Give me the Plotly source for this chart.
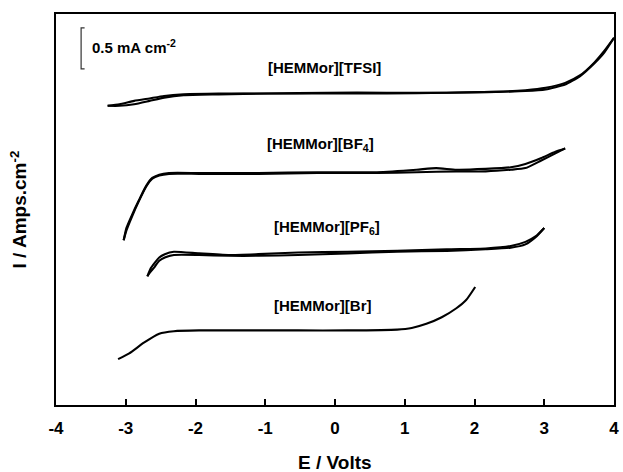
import plotly.graph_objects as go

# ---- data (E in volts, I in mA cm^-2 including vertical offsets) ----
tfsi_fwd_x = [-3.26, -3.09, -2.88, -2.66, -2.45, -2.17, -1.67, -0.96, -0.11, 0.74, 1.60, 2.31, 2.73, 3.02, 3.30, 3.51, 3.72, 3.86, 4.00]
tfsi_fwd_y = [3.65, 3.67, 3.71, 3.74, 3.77, 3.79, 3.80, 3.80, 3.81, 3.81, 3.81, 3.82, 3.84, 3.87, 3.93, 4.02, 4.18, 4.32, 4.48]
tfsi_rev_x = [4.00, 3.86, 3.72, 3.51, 3.30, 3.02, 2.73, 2.31, 1.60, 0.74, -0.11, -0.96, -1.67, -2.17, -2.45, -2.66, -2.88, -3.09, -3.26]
tfsi_rev_y = [4.48, 4.30, 4.17, 4.01, 3.91, 3.85, 3.83, 3.82, 3.81, 3.80, 3.80, 3.80, 3.79, 3.78, 3.75, 3.71, 3.67, 3.65, 3.65]

bf4_fwd_x = [-3.03, -2.99, -2.91, -2.81, -2.71, -2.62, -2.52, -2.38, -1.95, -1.10, -0.25, 0.60, 1.17, 1.45, 1.74, 2.16, 2.52, 2.73, 2.95, 3.16, 3.30]
bf4_fwd_y = [2.01, 2.16, 2.32, 2.50, 2.67, 2.77, 2.81, 2.83, 2.83, 2.83, 2.84, 2.84, 2.87, 2.89, 2.87, 2.88, 2.90, 2.94, 3.01, 3.09, 3.13]
bf4_rev_x = [3.30, 3.16, 2.95, 2.73, 2.52, 2.16, 1.74, 1.17, 0.60, -0.25, -1.10, -1.95, -2.38, -2.52, -2.62, -2.71, -2.81, -2.91, -2.99, -3.03]
bf4_rev_y = [3.13, 3.07, 2.98, 2.89, 2.87, 2.85, 2.85, 2.84, 2.83, 2.83, 2.82, 2.82, 2.82, 2.80, 2.76, 2.66, 2.49, 2.30, 2.13, 2.01]

pf6_fwd_x = [-2.69, -2.64, -2.58, -2.52, -2.44, -2.31, -1.95, -1.53, -1.10, -0.53, 0.18, 0.89, 1.60, 2.16, 2.52, 2.73, 2.88, 3.00]
pf6_fwd_y = [1.57, 1.67, 1.74, 1.80, 1.84, 1.87, 1.85, 1.83, 1.84, 1.86, 1.87, 1.88, 1.90, 1.91, 1.94, 1.99, 2.06, 2.16]
pf6_rev_x = [3.00, 2.88, 2.73, 2.52, 2.16, 1.60, 0.89, 0.18, -0.53, -1.10, -1.53, -1.95, -2.31, -2.44, -2.52, -2.59, -2.66, -2.69]
pf6_rev_y = [2.16, 2.05, 1.96, 1.92, 1.90, 1.88, 1.87, 1.85, 1.83, 1.82, 1.82, 1.83, 1.83, 1.80, 1.76, 1.68, 1.61, 1.57]

br_x = [-3.11, -2.95, -2.74, -2.52, -2.31, -1.95, -1.24, -0.53, 0.18, 0.89, 1.10, 1.31, 1.53, 1.74, 1.88, 2.01]
br_y = [0.56, 0.63, 0.76, 0.87, 0.90, 0.91, 0.91, 0.91, 0.91, 0.92, 0.94, 0.99, 1.07, 1.18, 1.28, 1.44]

labels = ["[HEMMor][TFSI]", "[HEMMor][BF<sub>4</sub>]", "[HEMMor][PF<sub>6</sub>]", "[HEMMor][Br]"]
label_x = [-0.15, -0.21, -0.12, -0.18]
label_y = [4.12, 3.18, 2.17, 1.21]

scale_x = [-3.59, -3.64, -3.64, -3.59]
scale_y = [4.60, 4.60, 4.10, 4.10]
scale_text = "0.5 mA cm<sup>-2</sup>"

x_ticks = [-4, -3, -2, -1, 0, 1, 2, 3, 4]

FONT = "Liberation Sans, Arial, sans-serif"

fig = go.Figure()
for xs, ys in [(tfsi_fwd_x, tfsi_fwd_y), (tfsi_rev_x, tfsi_rev_y),
               (bf4_fwd_x, bf4_fwd_y), (bf4_rev_x, bf4_rev_y),
               (pf6_fwd_x, pf6_fwd_y), (pf6_rev_x, pf6_rev_y),
               (br_x, br_y)]:
    fig.add_trace(go.Scatter(x=xs, y=ys, mode="lines",
                             line=dict(color="black", width=2.1, shape="spline", smoothing=0.5),
                             showlegend=False, hoverinfo="skip"))

fig.add_trace(go.Scatter(x=scale_x, y=scale_y, mode="lines", line=dict(color="#333", width=1.2),
                         showlegend=False, hoverinfo="skip"))

for t, x, y in zip(labels, label_x, label_y):
    fig.add_annotation(x=x, y=y, text=t, showarrow=False, xanchor="center", yanchor="middle",
                       font=dict(family=FONT, size=15, color="black", weight="bold"))

fig.add_annotation(x=-3.51, y=4.37, text=scale_text, showarrow=False, xanchor="left", yanchor="middle",
                   font=dict(family=FONT, size=15, color="black", weight="bold"))

fig.add_annotation(xref="paper", yref="paper", x=0.5, y=0, yshift=-57, text="E / Volts", showarrow=False,
                   xanchor="center", yanchor="middle", font=dict(family=FONT, size=19, color="black", weight="bold"))
fig.add_annotation(xref="paper", yref="paper", x=0, xshift=-38, y=0.5, text="I / Amps.cm<sup>-2</sup>", showarrow=False,
                   textangle=-90, xanchor="center", yanchor="middle",
                   font=dict(family=FONT, size=19, color="black", weight="bold"))

fig.update_layout(
    width=623, height=472,
    margin=dict(l=56, r=4, t=14, b=67),
    paper_bgcolor="white", plot_bgcolor="white",
    xaxis=dict(range=[-4, 4], tickvals=x_ticks, ticktext=[str(v) for v in x_ticks],
               ticks="inside", ticklen=6, tickwidth=1.5, tickcolor="black",
               showline=True, linecolor="black", linewidth=2, mirror=True,
               showgrid=False, zeroline=False, ticklabelstandoff=7,
               tickfont=dict(family=FONT, size=17, color="black", weight="bold")),
    yaxis=dict(range=[0, 4.77], showticklabels=False, ticks="",
               showline=True, linecolor="black", linewidth=2, mirror=True,
               showgrid=False, zeroline=False),
)

fig.write_html("out.html")
